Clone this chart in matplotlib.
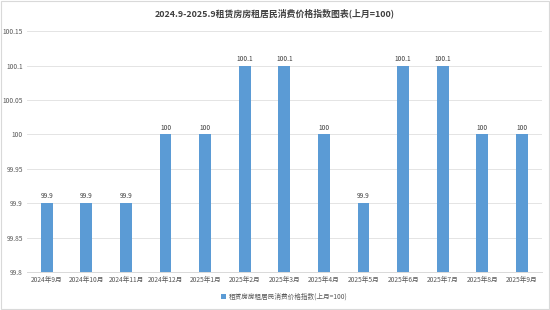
import matplotlib.pyplot as plt
from matplotlib.ticker import MultipleLocator, FuncFormatter

plt.rcParams['font.family'] = ['Noto Sans CJK SC', 'DejaVu Sans']

months = ['2024年9月', '2024年10月', '2024年11月', '2024年12月', '2025年1月', '2025年2月',
          '2025年3月', '2025年4月', '2025年5月', '2025年6月', '2025年7月', '2025年8月', '2025年9月']
values = [99.9, 99.9, 99.9, 100, 100, 100.1, 100.1, 100, 99.9, 100.1, 100.1, 100, 100]
series_name = '租赁房房租居民消费价格指数(上月=100)'
title = '2024.9-2025.9租赁房房租居民消费价格指数图表(上月=100)'

fig = plt.figure(figsize=(5.5, 3.1), dpi=100)
ax = fig.add_axes([0.049, 0.1226, 0.936, 0.777])

x = range(len(months))
bars = ax.bar(x, values, width=0.3, color='#5B9BD5', zorder=2, label=series_name)
for xi, v in zip(x, values):
    ax.text(xi, v + 0.004, '%g' % v, ha='center', va='bottom', fontsize=4.8, color='#404040')

ax.set_ylim(99.8, 100.15)
ax.set_xlim(-0.5, len(months) - 0.5)
ax.yaxis.set_major_locator(MultipleLocator(0.05))
ax.yaxis.set_major_formatter(FuncFormatter(lambda v, p: '%g' % round(v, 2)))
ax.grid(axis='y', color='#e4e4e4', linewidth=0.7, zorder=0)
ax.set_xticks(list(x))
ax.set_xticklabels(months)
ax.tick_params(axis='both', length=0, labelsize=4.8, labelcolor='#595959', pad=3)
for s in ['top', 'right', 'left']:
    ax.spines[s].set_visible(False)
ax.spines['bottom'].set_color('#d9d9d9')
ax.spines['bottom'].set_linewidth(0.7)

fig.text(0.5, 0.958, title, ha='center', va='center', fontsize=6.4, fontweight='bold', color='#404040')

ax.legend(loc='center', bbox_to_anchor=(0.5, -0.104), frameon=False, fontsize=4.8,
          handlelength=0.7, handleheight=0.7, handletextpad=0.4, labelcolor='#595959')

# thin figure border
fig.patches.append(plt.Rectangle((0.002, 0.003), 0.996, 0.994, transform=fig.transFigure,
                                 fill=False, edgecolor='#d9d9d9', linewidth=0.8))

fig.savefig('out.png', dpi=100)
